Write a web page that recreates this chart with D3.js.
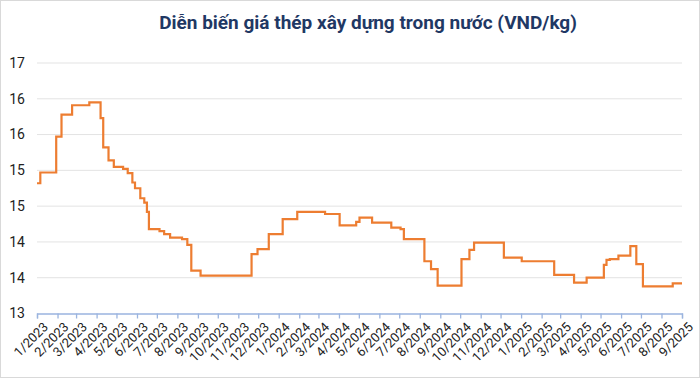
<!DOCTYPE html>
<html>
<head>
<meta charset="utf-8">
<script src="https://cdn.jsdelivr.net/npm/d3@7"></script>
<style>
  html, body { margin: 0; padding: 0; background: #fff; }
  svg { display: block; font-family: Roboto, "Noto Sans", sans-serif; }
</style>
</head>
<body>
<svg id="chart" width="700" height="378"></svg>
<script>
const title = "Diễn biến giá thép xây dựng trong nước (VND/kg)";

// dates at which the price changes (step chart)
const dates = [
  "2023-01-01", "2023-01-06", "2023-01-30", "2023-02-07", "2023-02-23", "2023-03-21",
  "2023-04-07", "2023-04-11", "2023-04-19", "2023-04-27", "2023-05-11", "2023-05-18",
  "2023-05-25", "2023-05-29", "2023-06-06", "2023-06-12", "2023-06-16", "2023-06-19",
  "2023-07-05", "2023-07-12", "2023-07-21", "2023-08-08", "2023-08-16", "2023-08-22",
  "2023-09-05", "2023-11-21", "2023-11-30", "2023-12-17", "2024-01-07", "2024-01-29",
  "2024-03-11", "2024-04-02", "2024-04-27", "2024-05-02", "2024-05-21", "2024-06-19",
  "2024-07-03", "2024-07-08", "2024-08-08", "2024-08-18", "2024-08-28", "2024-10-03",
  "2024-10-15", "2024-10-22", "2024-12-06", "2025-01-02", "2025-02-20", "2025-03-22",
  "2025-04-10", "2025-05-06", "2025-05-10", "2025-05-15", "2025-05-28", "2025-06-15",
  "2025-06-24", "2025-07-04", "2025-08-18", "2025-09-01"
];
// price, thousand VND/kg
const prices = [
  14.82, 14.97, 15.47, 15.78, 15.91, 15.95,
  15.73, 15.32, 15.14, 15.05, 15.02, 14.96,
  14.83, 14.75, 14.61, 14.55, 14.42, 14.18,
  14.15, 14.11, 14.06, 14.04, 13.96, 13.60,
  13.53, 13.83, 13.90, 14.11, 14.32, 14.42,
  14.39, 14.23, 14.28, 14.34, 14.27, 14.20,
  14.18, 14.04, 13.73, 13.62, 13.39, 13.76,
  13.89, 13.99, 13.78, 13.73, 13.54, 13.43,
  13.50, 13.68, 13.75, 13.76, 13.81, 13.94,
  13.69, 13.38, 13.42, 13.42
];

const yTicks = [13, 13.5, 14, 14.5, 15, 15.5, 16, 16.5];
const yTickLabels = ["13", "14", "14", "15", "15", "16", "16", "17"];

const xStart = "2023-01-01";
const xEnd = "2025-09-01";

const parse = d3.timeParse("%Y-%m-%d");
const data = dates.map((d, i) => ({ date: parse(d), value: prices[i] }));

const margin = { left: 37, right: 18, top: 63, bottom: 64.5 };
const width = 700, height = 378;

const svg = d3.select("#chart");

// outer frame
svg.append("rect")
  .attr("x", 0.5).attr("y", 0.5)
  .attr("width", width - 1).attr("height", height - 1)
  .attr("fill", "#fff")
  .attr("stroke", "#d9d9d9");

const x = d3.scaleTime()
  .domain([parse(xStart), parse(xEnd)])
  .range([margin.left, width - margin.right]);

const y = d3.scaleLinear()
  .domain([13, 16.5])
  .range([height - margin.bottom, margin.top]);

// title
svg.append("text")
  .attr("x", 368)
  .attr("y", 29)
  .attr("text-anchor", "middle")
  .attr("fill", "#1f3864")
  .attr("font-size", 19)
  .attr("font-weight", 700)
  .text(title);

// gridlines
svg.append("g")
  .selectAll("line")
  .data(yTicks.slice(1))
  .join("line")
  .attr("x1", margin.left)
  .attr("x2", width - margin.right)
  .attr("y1", d => y(d))
  .attr("y2", d => y(d))
  .attr("stroke", "#e3e3e3")
  .attr("stroke-width", 1);

// y labels
svg.append("g")
  .selectAll("text")
  .data(yTicks)
  .join("text")
  .attr("x", 25)
  .attr("y", d => y(d))
  .attr("dy", "0.35em")
  .attr("text-anchor", "end")
  .attr("font-size", 14)
  .attr("fill", "#222")
  .text((d, i) => yTickLabels[i]);

// x axis
const months = d3.timeMonth.range(parse(xStart), d3.timeDay.offset(parse(xEnd), 1));
const xAxis = d3.axisBottom(x)
  .tickValues(months)
  .tickSize(5)
  .tickFormat(d3.timeFormat("%-m/%Y"));

const gx = svg.append("g")
  .attr("transform", `translate(0,${y(13)})`)
  .call(xAxis);

gx.select(".domain").attr("stroke", "#9bb4df").attr("stroke-width", 1.3);
gx.selectAll(".tick line").attr("stroke", "#9bb4df").attr("stroke-width", 1.3);
gx.selectAll(".tick text")
  .attr("font-size", 13)
  .attr("font-family", "Roboto, sans-serif")
  .attr("fill", "#222")
  .attr("text-anchor", "end")
  .attr("transform", "translate(3,6) rotate(-45)")
  .attr("dx", 0)
  .attr("dy", "0.6em")
  .attr("y", 4);

// price line
const line = d3.line()
  .x(d => x(d.date))
  .y(d => y(d.value))
  .curve(d3.curveStepAfter);

svg.append("path")
  .datum(data)
  .attr("d", line)
  .attr("fill", "none")
  .attr("stroke", "#ed7d31")
  .attr("stroke-width", 2.2)
  .attr("stroke-linejoin", "miter");
</script>
</body>
</html>
